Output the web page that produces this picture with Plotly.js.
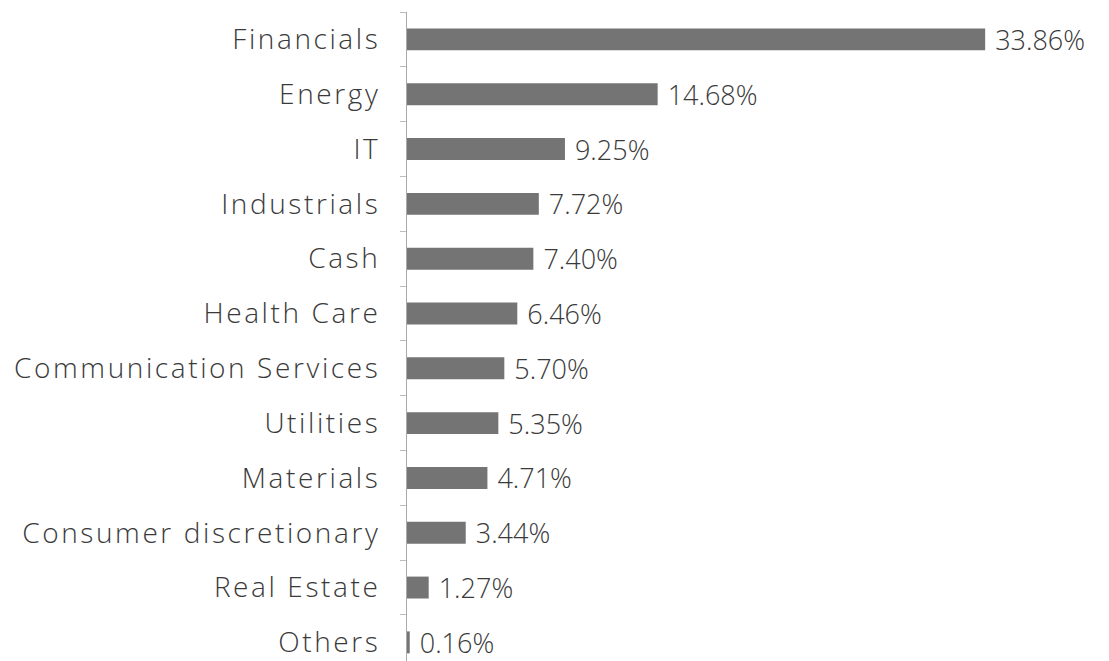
<!DOCTYPE html>
<html><head><meta charset="utf-8">
<script src="https://cdn.plot.ly/plotly-3.0.1.min.js"></script>
<style>html,body{margin:0;padding:0;background:#fff;}#chart{width:1109px;height:661px;}
#chart .ytick text{letter-spacing:2.6px;}
#chart .textpoint text{letter-spacing:2.6px;}</style>
</head><body><div id="chart"></div>
<script>
var categories = ["Financials","Energy","IT","Industrials","Cash","Health Care","Communication Services","Utilities","Materials","Consumer discretionary","Real Estate","Others"];
var weights = [33.86,14.68,9.25,7.72,7.40,6.46,5.70,5.35,4.71,3.44,1.27,0.16];
var labels = weights.map(function(v){return "\u00a0" + v.toFixed(2) + "%";});

var trace = {
  type: "bar", orientation: "h",
  y: categories, x: weights,
  text: labels, textposition: "outside", cliponaxis: false, constraintext: "none",
  textfont: {family: "Open Sans, sans-serif", size: 27, color: "#3a3a3a", weight: 300},
  marker: {color: "#747474"},
  width: 0.4, hoverinfo: "none"
};
var layout = {
  width: 1109, height: 661,
  margin: {l: 407, r: 19, t: 12, b: 0},
  paper_bgcolor: "#fff", plot_bgcolor: "#fff",
  showlegend: false,
  font: {family: "Open Sans, sans-serif", color: "#3a3a3a"},
  xaxis: {range: [0, 40], visible: false, showgrid: false, zeroline: false},
  yaxis: {
    type: "category", range: [11.34, -0.5], autorange: false,
    showline: true, linecolor: "#aaa", linewidth: 1,
    ticks: "outside", tickson: "boundaries", ticklen: 6, tickcolor: "#bbb",
    ticklabelstandoff: 20,
    tickfont: {family: "Open Sans, sans-serif", size: 28, color: "#3a3a3a", weight: 300},
    showgrid: false, zeroline: false
  }
};
Plotly.newPlot("chart", [trace], layout, {displayModeBar: false, staticPlot: true});
</script></body></html>
